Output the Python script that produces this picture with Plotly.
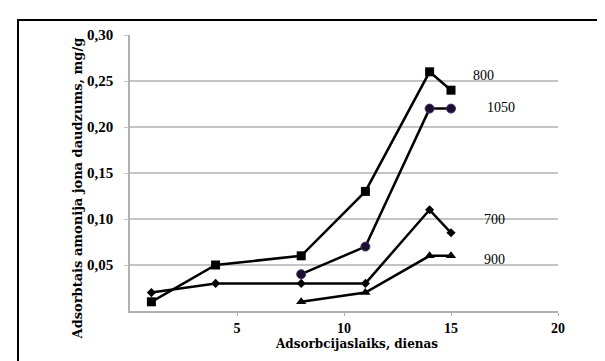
import plotly.graph_objects as go

days_800 = [1, 4, 8, 11, 14, 15]
vals_800 = [0.01, 0.05, 0.06, 0.13, 0.26, 0.24]
days_1050 = [8, 11, 14, 15]
vals_1050 = [0.04, 0.07, 0.22, 0.22]
days_700 = [1, 4, 8, 11, 14, 15]
vals_700 = [0.02, 0.03, 0.03, 0.03, 0.11, 0.085]
days_900 = [8, 11, 14, 15]
vals_900 = [0.01, 0.02, 0.06, 0.06]

series_names = ["800", "1050", "700", "900"]
label_x = [16.5, 17.35, 17.05, 17.05]
label_y = [0.256, 0.221, 0.099, 0.056]

y_tickvals = [0.05, 0.10, 0.15, 0.20, 0.25, 0.30]
y_ticktext = ["0,05", "0,10", "0,15", "0,20", "0,25", "0,30"]
x_tickvals = [5, 10, 15, 20]

x_title = "Adsorbcijaslaiks, dienas"
y_title = "Adsorbtais amonija jona daudzums, mg/g"

serif = "Liberation Serif, Times New Roman, serif"
wide_serif = "DejaVu Serif, serif"

fig = go.Figure()
specs = [
    (days_800, vals_800, dict(symbol="square", size=9, color="black")),
    (days_1050, vals_1050, dict(symbol="circle", size=9, color="#1a0f2e",
                                line=dict(color="#4a3070", width=1))),
    (days_700, vals_700, dict(symbol="diamond", size=7, color="black")),
    (days_900, vals_900, dict(symbol="triangle-up", size=9, color="black")),
]
for (xs, ys, mk), name in zip(specs, series_names):
    fig.add_trace(go.Scatter(x=xs, y=ys, mode="lines+markers", name=name,
                             line=dict(color="black", width=2.5), marker=mk,
                             showlegend=False))

for name, lx, ly in zip(series_names, label_x, label_y):
    fig.add_annotation(x=lx, y=ly, xref="x", yref="y", text=name, showarrow=False,
                       font=dict(family=serif, size=14, color="black"))

# axis titles (placed as in the reference)
fig.add_annotation(x=(348 - 122) / 428, y=-(345 - 303.3) / 276.5, xref="paper", yref="paper",
                   text=x_title, showarrow=False,
                   font=dict(family=wide_serif, size=12, weight="bold", color="black"))
fig.add_annotation(x=-(122 - 60) / 428, y=(303.3 - 181) / 276.5, xref="paper", yref="paper",
                   text=y_title, showarrow=False, textangle=-90,
                   font=dict(family=wide_serif, size=13, weight="bold", color="black"))

fig.update_layout(
    width=605, height=361,
    margin=dict(l=122, r=55, t=27, b=58),
    paper_bgcolor="white", plot_bgcolor="white",
    font=dict(family=serif, color="black"),
    xaxis=dict(range=[0, 20], tickvals=x_tickvals, showgrid=False,
               showline=True, linecolor="#b0b0b0", linewidth=1.5,
               ticks="outside", ticklen=3, tickcolor="#b0b0b0",
               tickfont=dict(family=serif, size=14, weight="bold"),
               zeroline=False),
    yaxis=dict(range=[0, 0.30], tickvals=y_tickvals, ticktext=y_ticktext,
               showgrid=True, gridcolor="#c4c4c4", gridwidth=1.5,
               showline=True, linecolor="#b0b0b0", linewidth=1.5,
               ticks="outside", ticklen=4, tickcolor="#c4c4c4",
               ticklabelstandoff=8,
               tickfont=dict(family=serif, size=15, weight="bold"),
               zeroline=False),
)

fig.add_shape(type="rect", xref="paper", yref="paper",
              x0=-112/428, x1=1.2, y0=-0.3, y1=1 + 15/276.5,
              line=dict(color="black", width=2), layer="below")

fig.write_html("out.html")
